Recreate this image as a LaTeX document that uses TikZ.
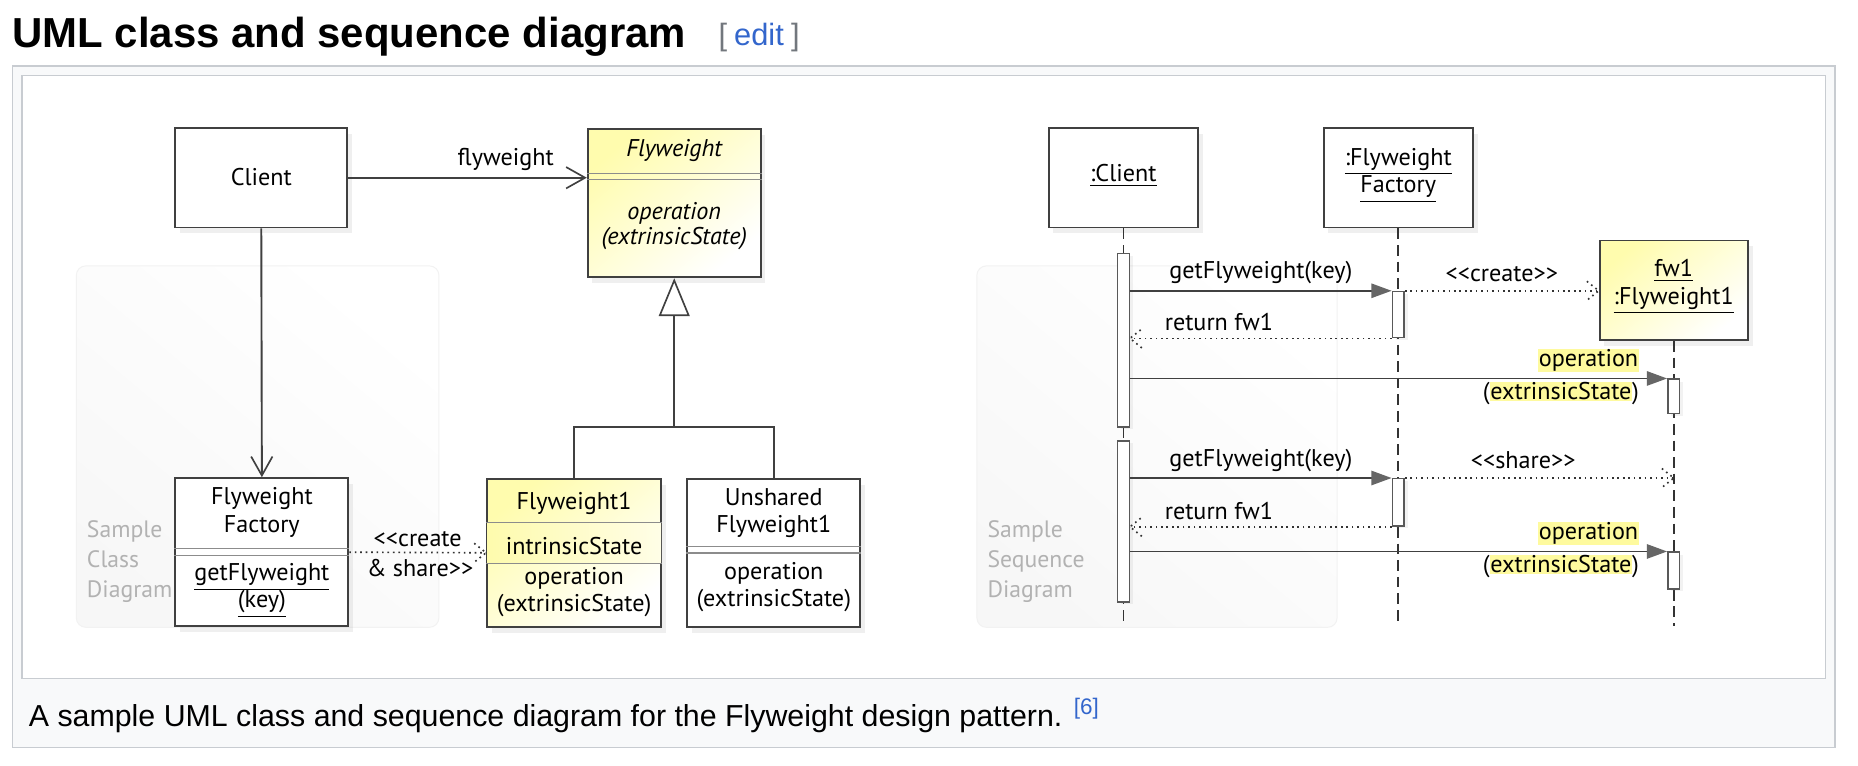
\documentclass[tikz,border=0pt]{standalone}
\usepackage{fontspec}
\setmainfont{Liberation Sans}
\newfontfamily\umlfont{PT Sans}
\usetikzlibrary{arrows.meta, shadows}

\definecolor{framegray}{HTML}{C8CCD1}
\definecolor{captionbg}{HTML}{F8F9FA}
\definecolor{linkblue}{HTML}{3366CC}
\definecolor{bracketgray}{HTML}{72777D}
\definecolor{fwyellow}{HTML}{FFFCAE}
\definecolor{hlyellow}{HTML}{FEFA9E}
\definecolor{tagtext}{HTML}{B2B2B2}

\newcommand{\hlt}[1]{{\setlength{\fboxsep}{0.3pt}\colorbox{hlyellow}{#1}}}

\tikzset{
  umltext/.style={font=\umlfont\fontsize{10.2}{11.5}\selectfont, align=center, inner sep=0pt},
  umlital/.style={umltext, font=\umlfont\fontsize{10.2}{10.5}\selectfont\itshape},
  classbox/.style={draw=black!75, line width=0.8pt, fill=white, inner sep=0pt,
                   drop shadow={shadow xshift=2pt, shadow yshift=-2.5pt, opacity=0.12}},
  yellowbox/.style={classbox, top color=fwyellow, bottom color=white, shading angle=40},
  compart/.style={draw=black!45, line width=0.45pt},
  plain/.style={draw=black!75, line width=0.8pt},
  assoc/.style={plain, -{Straight Barb[length=8pt, width=9pt, line width=0.7pt]}},
  general/.style={plain, -{Triangle[open, fill=white, length=16pt, width=13pt, line width=0.7pt]}},
  depend/.style={draw=black!80, line width=0.7pt, dash pattern=on 0.7pt off 1.6pt},
  message/.style={plain, -{Triangle[length=8.5pt, width=6pt, color=black!60]}},
  lifeline/.style={draw=black!80, line width=0.7pt, dash pattern=on 4.5pt off 2.5pt},
  actbar/.style={draw=black!65, line width=0.6pt, fill=white, minimum width=5pt, inner sep=0pt,
                 drop shadow={shadow xshift=1.5pt, shadow yshift=-1pt, opacity=0.1}},
  panel/.style={rounded corners=4pt, draw=black!5, top color=white, bottom color=black!3,
                shading angle=-40, inner sep=0pt, anchor=north west},
  paneltag/.style={font=\umlfont\fontsize{10}{12.5}\selectfont, text=tagtext, align=left,
                   inner sep=0pt, anchor=west},
  dotbarb/.pic={\draw[depend] (-5pt,4pt) -- (0,0) -- (-5pt,-4pt);},
}

\begin{document}
\begin{tikzpicture}[x=0.5pt, y=-0.5pt]
  \useasboundingbox (0,0) rectangle (1568,646);

  % Heading, figure frame and caption
  \node[anchor=base west, inner sep=0pt, font=\bfseries\fontsize{17.7}{20}\selectfont] (heading) at (10,40) {UML class and sequence diagram};
  \node[anchor=base west, inner sep=0pt, font=\fontsize{13}{15}\selectfont, text=bracketgray] (edit) at (606,38) {[\hspace{3pt}\textcolor{linkblue}{edit}\hspace{3pt}]};
  \node[anchor=north west, inner sep=0pt, draw=framegray, fill=captionbg, line width=0.6pt,
        minimum width=769pt, minimum height=287.5pt] (figframe) at (10,55) {};
  \node[anchor=north west, inner sep=0pt, draw=framegray, fill=white, line width=0.6pt,
        minimum width=761pt, minimum height=254.5pt] (imgframe) at (18,63) {};
  \node[anchor=base west, inner sep=0pt, font=\fontsize{12.8}{15}\selectfont] (caption) at (24,613)
        {A sample UML class and sequence diagram for the Flyweight design pattern. \raisebox{5pt}{\fontsize{9.5}{10}\selectfont\textcolor{linkblue}{[6]}}};

  % Class diagram (left)
  \node[panel, minimum width=153pt, minimum height=152.5pt] (classpanel) at (64,224) {};
  \node[paneltag] (classtag) at (73,474) {Sample\\Class\\Diagram};

  \node[classbox, minimum width=72.5pt, minimum height=42pt] (client) at (220.5,150) {};
  \node[umltext] (client-name) at (220.5,149) {Client};

  \node[yellowbox, minimum width=73pt, minimum height=62.5pt] (flyweight) at (569,171.5) {};
  \node[umlital] (flyweight-name) at (569,127) {Flyweight};
  \foreach \d in {19,21.5}
    \draw[compart] ([yshift=-\d pt]flyweight.north west) -- ([yshift=-\d pt]flyweight.north east);
  \node[umlital] (flyweight-ops) at (569,191) {operation\\(extrinsicState)};

  \node[classbox, minimum width=73pt, minimum height=62.5pt] (factory) at (221,466) {};
  \node[umltext] (factory-name) at (221,432.5) {Flyweight\\Factory};
  \foreach \d in {30,33}
    \draw[compart] ([yshift=-\d pt]factory.north west) -- ([yshift=-\d pt]factory.north east);
  \node[umltext] (factory-ops) at (221,498.5) {\underline{getFlyweight}\\\underline{(key)}};

  \node[yellowbox, minimum width=73.5pt, minimum height=62.5pt] (fwone) at (484.5,466.5) {};
  \shade[left color=hlyellow!85, right color=hlyellow!25]
    ([xshift=0.4pt, yshift=-19pt]fwone.north west) rectangle ([xshift=-0.4pt, yshift=-36pt]fwone.north east);
  \foreach \d in {19,36}
    \draw[compart] ([yshift=-\d pt]fwone.north west) -- ([yshift=-\d pt]fwone.north east);
  \node[umltext] (fwone-name) at (484.5,424.5) {Flyweight1};
  \node[umltext] (fwone-state) at (484.5,460.5) {intrinsicState};
  \node[umltext] (fwone-ops) at (484.5,499.5) {operation\\(extrinsicState)};

  \node[classbox, minimum width=73pt, minimum height=62.5pt] (unshared) at (653,466.5) {};
  \node[umltext] (unshared-name) at (653,432.8) {Unshared\\Flyweight1};
  \foreach \d in {29,31.75}
    \draw[compart] ([yshift=-\d pt]unshared.north west) -- ([yshift=-\d pt]unshared.north east);
  \node[umltext] (unshared-ops) at (653,495.5) {operation\\(extrinsicState)};

  % Class relations
  \draw[assoc] (client.east) -- (client.east -| flyweight.west)
        node[pos=1, umltext, anchor=base east, xshift=-13.5pt, yshift=5pt] {flyweight};
  \draw[assoc] (client.south) -- (factory.north);
  \coordinate (genjoin) at (569,360);
  \draw[general] (genjoin) -- (flyweight.south);
  \draw[plain] (fwone.north) |- (genjoin) -| (unshared.north);
  \draw[depend] (factory.east) -- (fwone.west)
        node[midway, umltext, anchor=base, yshift=2.5pt] {\textless\textless create}
        node[midway, umltext, anchor=base, yshift=-10pt, xshift=1pt] {\& share\textgreater\textgreater};
  \pic at (fwone.west) {dotbarb};

  % Sequence diagram (right)
  \node[panel, minimum width=152pt, minimum height=152.5pt] (seqpanel) at (824,224) {};
  \node[paneltag] (seqtag) at (833,474) {Sample\\Sequence\\Diagram};

  \node[classbox, minimum width=63pt, minimum height=42pt] (client-obj) at (948,150) {};
  \node[umltext] (client-obj-name) at (948,148) {\underline{:Client}};
  \node[classbox, minimum width=63pt, minimum height=42pt] (factory-obj) at (1180,150) {};
  \node[umltext] (factory-obj-name) at (1180,148) {\underline{:Flyweight}\\\underline{Factory}};
  \node[yellowbox, minimum width=62.5pt, minimum height=42pt] (fw-obj) at (1412.5,245) {};
  \node[umltext] (fw-obj-name) at (1412.5,242) {\underline{fw1}\\\underline{:Flyweight1}};

  % Lifelines
  \coordinate (client-end) at (948,528);
  \coordinate (factory-end) at (1180,528);
  \coordinate (fw-end) at (1412.5,528);
  \draw[lifeline] (client-obj.south) -- (client-end);
  \draw[lifeline] (factory-obj.south) -- (factory-end);
  \draw[lifeline] (fw-obj.south) -- (fw-end);

  % Activations
  \node[actbar, minimum height=73.25pt] (client-act1) at (948,287) {};
  \node[actbar, minimum height=68pt] (client-act2) at (948,440) {};
  \node[actbar, minimum height=19.5pt] (factory-act1) at (1180,265.5) {};
  \node[actbar, minimum height=20pt] (factory-act2) at (1180,424) {};
  \node[actbar, minimum height=14.5pt] (fw-act1) at (1412.5,334.5) {};
  \node[actbar, minimum height=15.5pt] (fw-act2) at (1412.5,481.5) {};

  % Messages, first request
  \draw[message] (client-act1.east |- factory-act1.north) -- (factory-act1.north west)
        node[midway, umltext, anchor=base, yshift=5pt] {getFlyweight(key)};
  \draw[depend] (factory-act1.north east) -- (fw-obj.west |- factory-act1.north)
        node[midway, umltext, anchor=base, yshift=4pt] {\textless\textless create\textgreater\textgreater};
  \pic at (fw-obj.west |- factory-act1.north) {dotbarb};
  \draw[depend] (factory-act1.south west) -- (client-act1.east |- factory-act1.south)
        node[pos=0.66, umltext, anchor=base, yshift=3.3pt] {return fw1};
  \pic[rotate=180] at (client-act1.east |- factory-act1.south) {dotbarb};
  \draw[message] (client-act1.east |- fw-act1.north) -- (fw-act1.north west)
        node[pos=1, umltext, anchor=base east, xshift=-11.5pt, yshift=5pt] {\hlt{operation}}
        node[pos=1, umltext, anchor=base east, xshift=-11.5pt, yshift=-9pt] {(\hlt{extrinsicState})};

  % Messages, second request
  \draw[message] (client-act2.east |- factory-act2.north) -- (factory-act2.north west)
        node[midway, umltext, anchor=base, yshift=5pt] {getFlyweight(key)};
  \draw[depend] (factory-act2.north east) -- (fw-act1.center |- factory-act2.north)
        node[pos=0.44, umltext, anchor=base, yshift=4pt] {\textless\textless share\textgreater\textgreater};
  \pic at (fw-act1.center |- factory-act2.north) {dotbarb};
  \draw[depend] (factory-act2.south west) -- (client-act2.east |- factory-act2.south)
        node[pos=0.66, umltext, anchor=base, yshift=3.3pt] {return fw1};
  \pic[rotate=180] at (client-act2.east |- factory-act2.south) {dotbarb};
  \draw[message] (client-act2.east |- fw-act2.north) -- (fw-act2.north west)
        node[pos=1, umltext, anchor=base east, xshift=-11.5pt, yshift=5pt] {\hlt{operation}}
        node[pos=1, umltext, anchor=base east, xshift=-11.5pt, yshift=-9pt] {(\hlt{extrinsicState})};
\end{tikzpicture}
\end{document}
